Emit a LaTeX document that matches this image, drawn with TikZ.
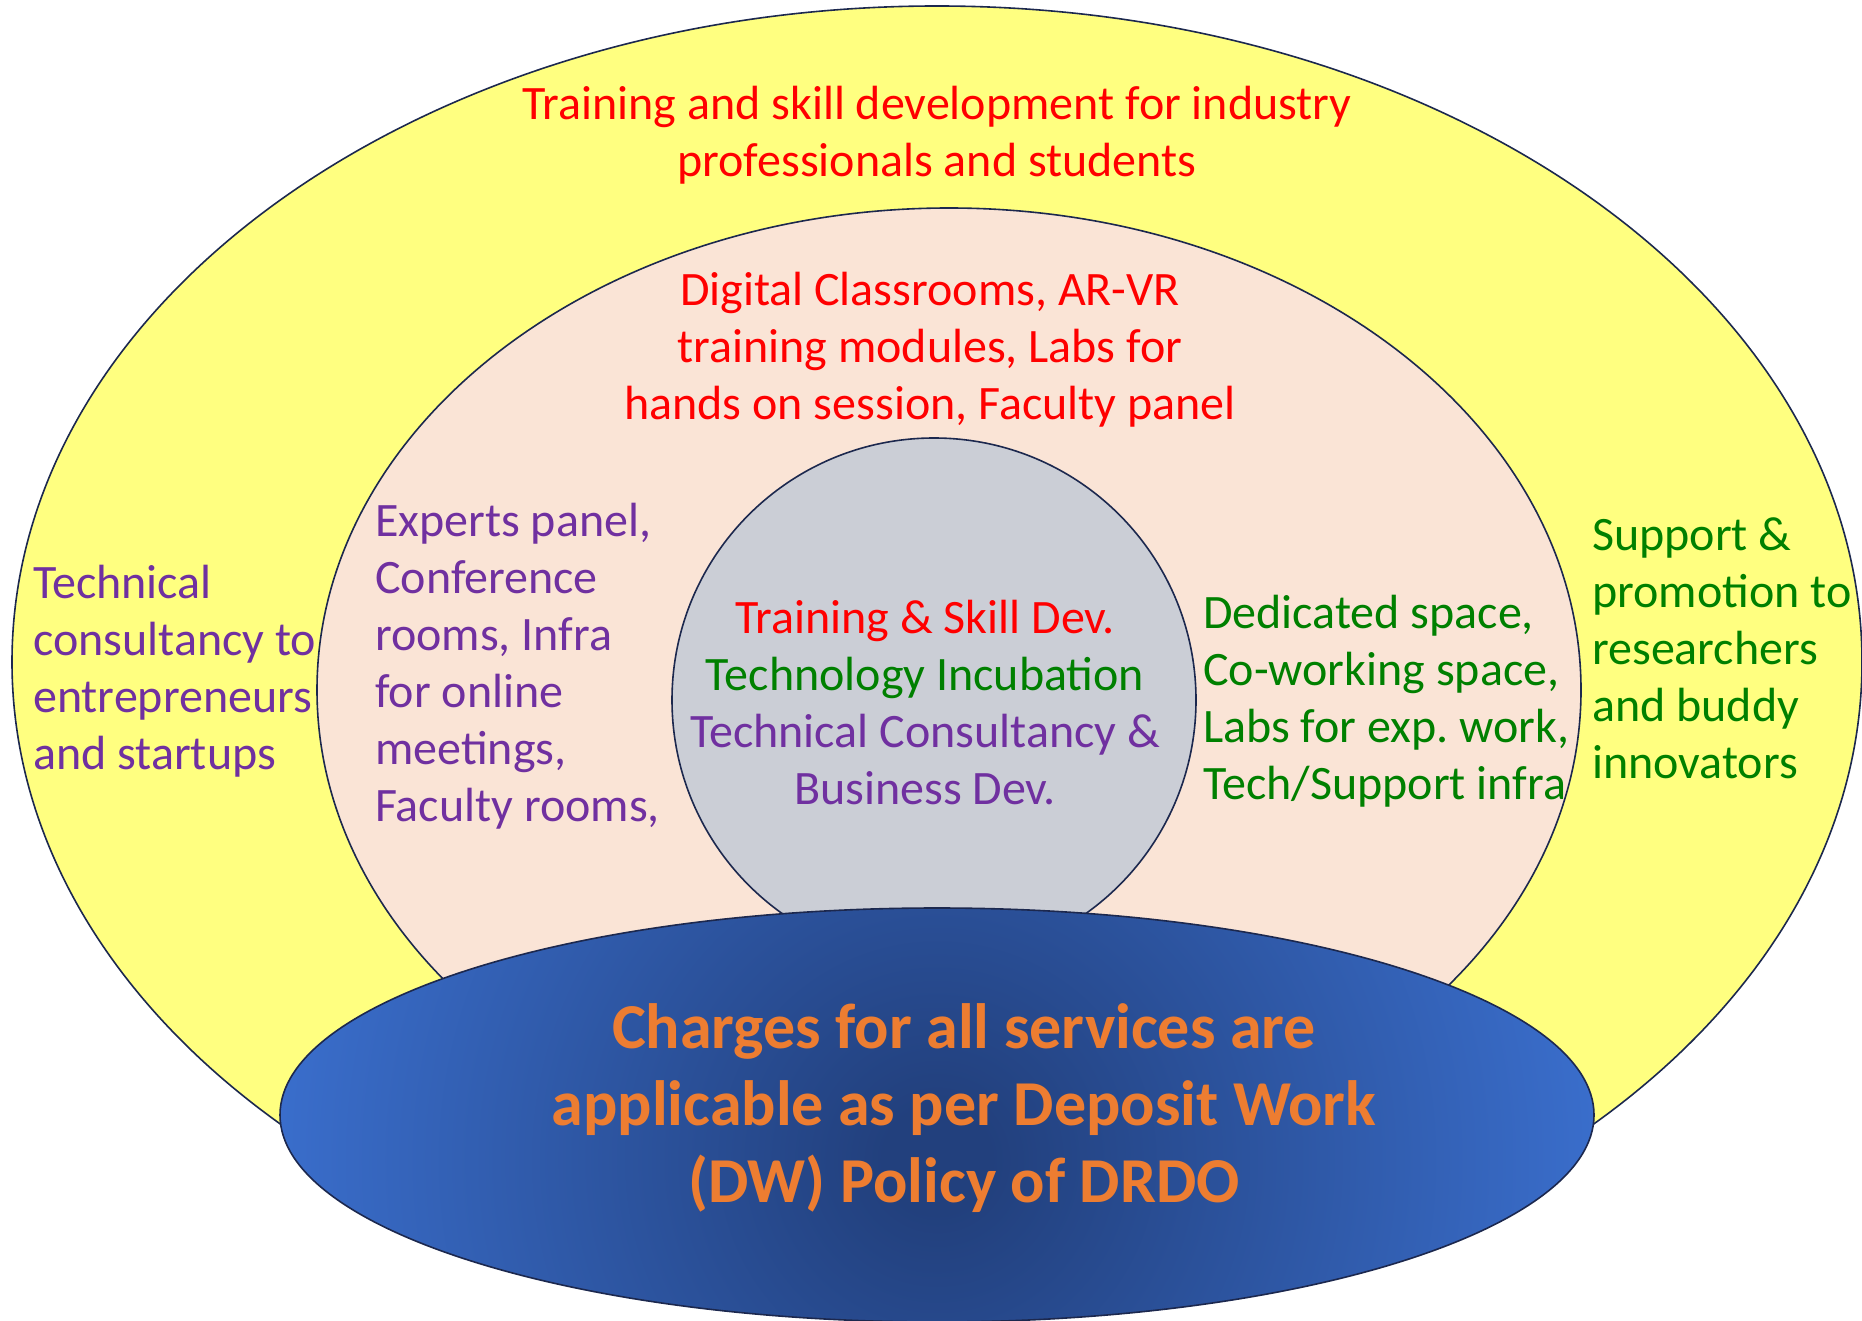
\documentclass[tikz,border=0pt]{standalone}
\usepackage{fontspec}
\setmainfont{Carlito}
\frenchspacing
\definecolor{outerfill}{RGB}{255,255,128}
\definecolor{midfill}{RGB}{250,228,214}
\definecolor{innerfill}{RGB}{203,206,214}
\definecolor{edge}{RGB}{28,40,78}
\definecolor{bdark}{RGB}{34,64,125}
\definecolor{blight}{RGB}{58,110,204}
\definecolor{tred}{RGB}{255,0,0}
\definecolor{tpurple}{RGB}{112,48,160}
\definecolor{tgreen}{RGB}{0,128,0}
\definecolor{torange}{RGB}{237,125,49}
\pgfdeclareradialshading{blueell}{\pgfpoint{0bp}{0bp}}{color(0bp)=(bdark); color(2bp)=(bdark); color(25bp)=(blight); color(50bp)=(blight)}
\tikzset{
  ring/.style={draw=edge, line width=1.6pt},
  txt/.style={inner sep=0pt, font=\fontsize{48}{57}\selectfont},
  lefttxt/.style={txt, anchor=west, align=left},
  midtxt/.style={txt, anchor=center, align=center},
  bigtxt/.style={inner sep=0pt, anchor=center, align=center, text=torange, font=\fontsize{64}{77}\selectfont\bfseries}
}
\begin{document}
\begin{tikzpicture}[x=1pt,y=-1pt]
\useasboundingbox (0,0) rectangle (1862,1321);
% shapes
\path[ring, fill=outerfill] (937,662) ellipse [x radius=925, y radius=656];
\path[ring, fill=midfill] (949,690) ellipse [x radius=632, y radius=482];
\path[ring, fill=innerfill] (934,700) circle [radius=262];
\begin{scope}
  \clip (937,1115) ellipse [x radius=657, y radius=207];
  \shade[shading=blueell] (937,1160) circle [radius=665];
\end{scope}
\path[ring] (937,1115) ellipse [x radius=657, y radius=207];
% texts
\node[midtxt, text=tred] (outertop) at (937,135) {Training and skill development for industry\\professionals and students};
\node[midtxt, text=tred] (midtop) at (930,350) {Digital Classrooms, AR-VR\\training modules, Labs for\\hands on session, Faculty panel};
\node[lefttxt, text=tpurple] (outerleft) at (33,671) {Technical\\consultancy to\\entrepreneurs\\and startups};
\node[lefttxt, text=tpurple] (midleft) at (375,666) {Experts panel,\\Conference\\rooms, Infra\\for online\\meetings,\\Faculty rooms,};
\node[lefttxt, text=tgreen] (midright) at (1203,701) {Dedicated space,\\Co-working space,\\Labs for exp. work,\\Tech/Support infra};
\node[lefttxt, text=tgreen] (outerright) at (1592,648) {Support \&\\promotion to\\researchers\\and buddy\\innovators};
\node[midtxt] (core) at (925,703) {\textcolor{tred}{Training \& Skill Dev.}\\\textcolor{tgreen}{Technology Incubation}\\\textcolor{tpurple}{Technical Consultancy \&}\\\textcolor{tpurple}{Business Dev.}};
\node[bigtxt] (policy) at (964,1108) {Charges for all services are\\applicable as per Deposit Work\\(DW) Policy of DRDO};
\end{tikzpicture}
\end{document}
